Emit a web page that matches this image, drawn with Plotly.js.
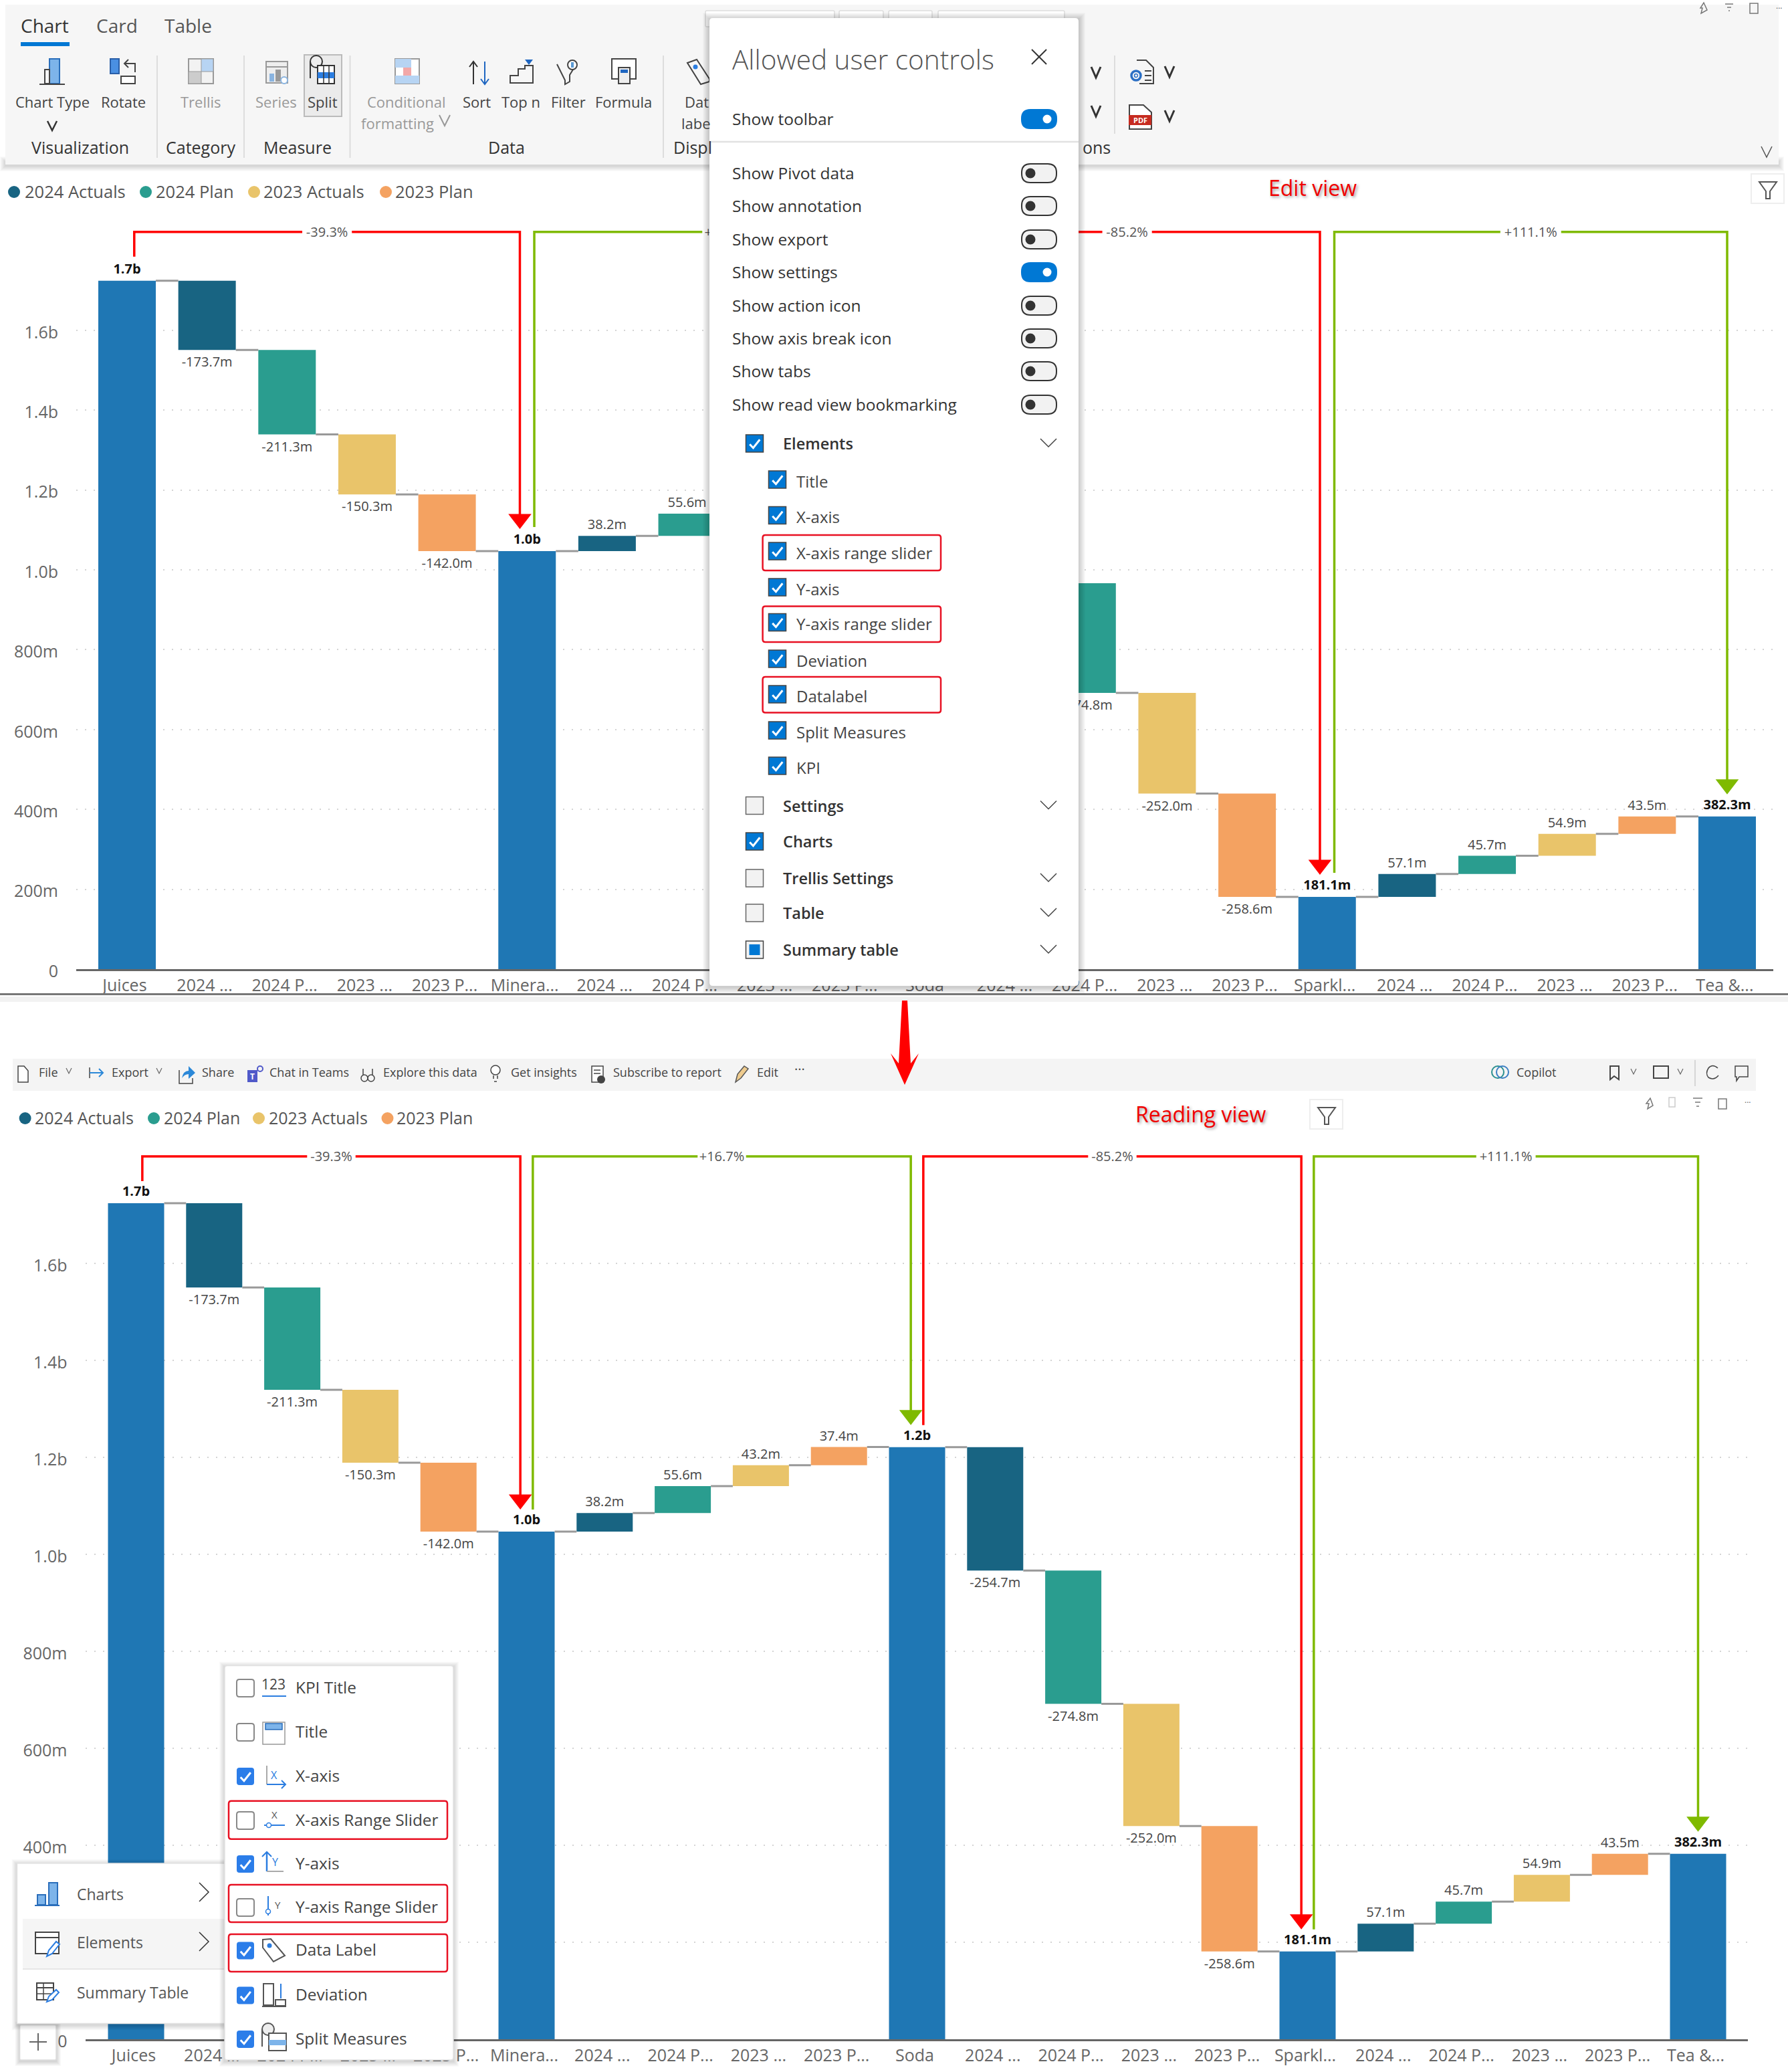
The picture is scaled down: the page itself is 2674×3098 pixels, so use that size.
<!DOCTYPE html>
<html><head><meta charset="utf-8">
<script src="https://cdn.plot.ly/plotly-3.0.1.min.js"></script>
<style>html,body{margin:0;padding:0;background:#fff}</style></head>
<body><div id="chart" style="width:2674px;height:3098px"></div>
<script>
// ---------- DATA ----------
const categories = ["Juices","2024 ...","2024 P...","2023 ...","2023 P...","Minera...","2024 ...","2024 P...","2023 ...","2023 P...","Soda","2024 ...","2024 P...","2023 ...","2023 P...","Sparkl...","2024 ...","2024 P...","2023 ...","2023 P...","Tea &..."];
const seriesNames = ["Category total","2024 Actuals","2024 Plan","2023 Actuals","2023 Plan"];
const seriesOfBar = [0,1,2,3,4,0,1,2,3,4,0,1,2,3,4,0,1,2,3,4,0];
const barValues = [1724.2,-173.7,-211.3,-150.3,-142.0,1046.9,38.2,55.6,43.2,37.4,1221.2,-254.7,-274.8,-252.0,-258.6,181.1,57.1,45.7,54.9,43.5,382.3];
const barLabels = ["1.7b","-173.7m","-211.3m","-150.3m","-142.0m","1.0b","38.2m","55.6m","43.2m","37.4m","1.2b","-254.7m","-274.8m","-252.0m","-258.6m","181.1m","57.1m","45.7m","54.9m","43.5m","382.3m"];
const devFrom = [0,5,10,15];
const devTo = [5,10,15,20];
const devLabels = ["-39.3%","+16.7%","-85.2%","+111.1%"];
const yTickVals = [0,200,400,600,800,1000,1200,1400,1600];
const yTickText = ["0","200m","400m","600m","800m","1.0b","1.2b","1.4b","1.6b"];
// ---------- STYLE ----------
const seriesColors = ["#1f77b4","#186482","#2a9d8f","#e9c46a","#f4a261"];
const RED="#ff0000", GREEN="#7fba00", W=2674, H=3098;
const FONT='"Open Sans","Noto Sans",sans-serif';
const BLUE="#0078d4";
// panels: pixel frame of each chart
const frames = [
 {x0:190,step:119.65,left:114,right:2652,base:1449,top:339,ppu:0.597,barPx:86,brY:346.7,clr:36,tip:33,gap:0.09,ax:""},
 {x0:203.5,step:116.8,left:127.5,right:2614,base:3049,top:1720,ppu:0.725,barPx:84,brY:1729,clr:33,tip:33,gap:0.08,ax:"2"}
];
const traces=[]; const layout={
 width:W,height:H,margin:{l:0,r:0,t:0,b:0},paper_bgcolor:"#fff",plot_bgcolor:"rgba(0,0,0,0)",
 showlegend:false,barmode:"overlay",font:{family:FONT,color:"#555"},hovermode:false,shapes:[],annotations:[]
};
// running levels of the waterfall
const lows=[],tops=[],levels=[];
let run=0;
barValues.forEach((v,i)=>{
  const isTotal=seriesOfBar[i]===0;
  if(isTotal){lows.push(0);tops.push(v);run=v;}
  else{lows.push(Math.min(run,run+v));tops.push(Math.max(run,run+v));run+=v;}
  levels.push(run);
});
frames.forEach(f=>{
  const xa="x"+f.ax, ya="y"+f.ax;
  const idx=categories.map((_,i)=>i), width=f.barPx/f.step;
  seriesNames.forEach((name,s)=>{
    const ii=idx.filter(i=>seriesOfBar[i]===s);
    traces.push({type:"bar",name,xaxis:xa,yaxis:ya,x:ii,base:ii.map(i=>lows[i]),y:ii.map(i=>tops[i]-lows[i]),width,
      marker:{color:seriesColors[s],line:{width:0}}});
  });
  // connectors
  const cx=[],cy=[];
  for(let i=0;i<categories.length-1;i++){cx.push(i+width/2,i+1-width/2,null);cy.push(levels[i],levels[i],null);}
  traces.push({type:"scatter",mode:"lines",xaxis:xa,yaxis:ya,x:cx,y:cy,line:{color:"#999",width:3}});
  // data labels
  const neg=idx.filter(i=>barValues[i]<0), pos=idx.filter(i=>barValues[i]>=0&&seriesOfBar[i]!==0), tot=idx.filter(i=>seriesOfBar[i]===0);
  traces.push({type:"scatter",mode:"text",xaxis:xa,yaxis:ya,x:neg,y:neg.map(i=>lows[i]-10/f.ppu),text:neg.map(i=>barLabels[i]),textposition:"bottom center",textfont:{size:20,color:"#444",family:FONT}});
  traces.push({type:"scatter",mode:"text",xaxis:xa,yaxis:ya,x:pos,y:pos.map(i=>tops[i]+5/f.ppu),text:pos.map(i=>barLabels[i]),textposition:"top center",textfont:{size:20,color:"#444",family:FONT}});
  traces.push({type:"scatter",mode:"text",xaxis:xa,yaxis:ya,x:tot,y:tot.map(i=>tops[i]+6/f.ppu),text:tot.map(i=>"<b>"+barLabels[i]+"</b>"),textposition:"top center",textfont:{size:20,color:"#111",family:FONT}});
  // deviation brackets
  const brVal=(f.base-f.brY)/f.ppu;
  devFrom.forEach((a,k)=>{
    const b=devTo[k], col=devLabels[k][0]==="-"?RED:GREEN, half=devLabels[k].length>6?0.38:0.31;
    const x1=a+f.gap, x2=(k===3)?b:b-f.gap, mid=(a+f.gap+x2)/2, aY=tops[a]+f.clr/f.ppu, tipV=tops[b]+(f.tip+15)/f.ppu;
    traces.push({type:"scatter",mode:"lines",xaxis:xa,yaxis:ya,x:[x1,x1,mid-half,null,mid+half,x2,x2],y:[aY,brVal,brVal,null,brVal,brVal,tipV],line:{color:col,width:3.5}});
    traces.push({type:"scatter",mode:"markers",xaxis:xa,yaxis:ya,x:[x2],y:[tipV],marker:{symbol:"triangle-down",size:30,color:col}});
    traces.push({type:"scatter",mode:"text",xaxis:xa,yaxis:ya,x:[mid],y:[brVal-2/f.ppu],text:[devLabels[k]],textposition:"middle center",textfont:{size:20,color:"#555",family:FONT}});
  });
  layout["xaxis"+f.ax]={anchor:ya,domain:[f.left/W,f.right/W],range:[(f.left-f.x0)/f.step,(f.right-f.x0)/f.step],
    tickmode:"array",tickvals:idx.map(i=>i-0.03),ticktext:categories,tickangle:0,tickfont:{size:25,color:"#666",family:FONT},
    showgrid:false,zeroline:false,showline:true,linecolor:"#666",linewidth:3,ticks:"",fixedrange:true};
  layout["yaxis"+f.ax]={anchor:xa,domain:[1-f.base/H,1-f.top/H],range:[0,(f.base-f.top)/f.ppu],
    tickmode:"array",tickvals:yTickVals,ticktext:yTickText,tickfont:{size:25,color:"#666",family:FONT},ticklabelstandoff:26,ticklabelshift:3,
    showgrid:true,griddash:"2px,11px",gridcolor:"#d4d4d4",gridwidth:2,zeroline:false,showline:false,ticks:"",fixedrange:true};
});
// pixel overlay axes for the surrounding interface
layout.xaxis3={anchor:"y3",domain:[0,1],range:[0,W],visible:false,fixedrange:true};
layout.yaxis3={anchor:"x3",domain:[0,1],range:[H,0],visible:false,fixedrange:true};
traces.push({type:"scatter",mode:"markers",xaxis:"x3",yaxis:"y3",x:[],y:[]});

// ---------- INTERFACE HELPERS ----------
const S=layout.shapes,A=layout.annotations;
const base={xref:"x3",yref:"y3",layer:"above"};
const none={width:0};
function R(x0,y0,x1,y1,fill,lc,lw){S.push({...base,type:"rect",x0,y0,x1,y1,fillcolor:fill||"rgba(0,0,0,0)",line:lc?{color:lc,width:lw||1}:none});}
function L(x0,y0,x1,y1,c,w){S.push({...base,type:"line",x0,y0,x1,y1,line:{color:c||"#444",width:w||2}});}
function C(cx,cy,r,fill,lc,lw){S.push({...base,type:"circle",x0:cx-r,y0:cy-r,x1:cx+r,y1:cy+r,fillcolor:fill||"rgba(0,0,0,0)",line:lc?{color:lc,width:lw||1}:none});}
function P(path,fill,lc,lw){S.push({...base,type:"path",path,fillcolor:fill||"rgba(0,0,0,0)",line:lc?{color:lc,width:lw||1}:none});}
function RR(x0,y0,x1,y1,r,fill,lc,lw){P(`M${x0+r} ${y0}L${x1-r} ${y0}Q${x1} ${y0} ${x1} ${y0+r}L${x1} ${y1-r}Q${x1} ${y1} ${x1-r} ${y1}L${x0+r} ${y1}Q${x0} ${y1} ${x0} ${y1-r}L${x0} ${y0+r}Q${x0} ${y0} ${x0+r} ${y0}Z`,fill,lc,lw);}
function T(x,y,text,size,color,anchor,extra){A.push({xref:"x3",yref:"y3",x,y:y-2,text,showarrow:false,xanchor:anchor||"left",yanchor:"middle",borderpad:0,font:Object.assign({size,color:color||"#444",family:FONT},extra||{})});}
function shadow(x0,y0,x1,y1,n,alpha){for(let i=n;i>0;i--)R(x0-i,y0-i+2,x1+i,y1+i+2,`rgba(0,0,0,${alpha})`);}
function chev(x,y,w,h,c,lw){P(`M${x-w} ${y-h}L${x} ${y+h}L${x+w} ${y-h}`,null,c||"#333",lw||2);}
function chevR(x,y,w,h,c){P(`M${x-w} ${y-h}L${x+w} ${y}L${x-w} ${y+h}`,null,c||"#333",1.5);}
function check(x0,y0,x1,y1){const w=x1-x0,h=y1-y0;P(`M${x0+w*.22} ${y0+h*.55}L${x0+w*.42} ${y0+h*.76}L${x0+w*.8} ${y0+h*.28}`,null,"#fff",3);}
function toggle(cy,on){
  const x0=1528,x1=1580,h=14;
  RR(x0,cy-h,x1,cy+h,13,on?BLUE:"#f2f2f2",on?BLUE:"#333",2);
  if(on)C(x1-14,cy,6.5,"#fff");else C(x0+13,cy,7.5,"#333");
}
function box1(x0,cy,state){ // popup checkbox
  const x1=x0+26,y0=cy-13,y1=cy+13;
  if(state==="on"){R(x0,y0,x1,y1,BLUE,"#444",1.5);check(x0,y0,x1,y1);}
  else if(state==="part"){R(x0,y0,x1,y1,"#f2f2f2","#444",1.5);R(x0+5,y0+5,x1-5,y1-5,BLUE);}
  else R(x0,y0,x1,y1,"#f2f2f2","#666",1.5);
}
function box2(cy,on){ // reading view checkbox
  const x0=354,x1=380,y0=cy-13,y1=cy+13;
  if(on){RR(x0,y0,x1,y1,4,"#2b7de9");check(x0,y0,x1,y1);}
  else RR(x0,y0,x1,y1,4,"#fff","#888",2);
}

// ---------- RIBBON ----------
shadow(8,240,2660,246,8,0.018);
R(8,7,2660,246,"#f6f6f6");
const g="#999",lab="#444";
T(67,40,"Chart",28,"#333","center");T(175,40,"Card",28,"#555","center");T(281,40,"Table",28,"#555","center");
R(31,63,104,69,BLUE);
const rowY=154;
R(455,82,511,174,"#ebebeb","#bbb",2);
[[78,"Chart Type",lab],[184,"Rotate",lab],[300,"Trellis",g],[413,"Series",g],[482,"Split",lab],[608,"Conditional",g],[713,"Sort",lab],[779,"Top n",lab],[850,"Filter",lab],[932,"Formula",lab]].forEach(r=>T(r[0],rowY,r[1],22,r[2],"center"));
T(594,186,"formatting",22,g,"center");chev(665,180,8,8,g);chev(78,188,7,7,"#333",2.5);
T(1023,rowY,"Dat",22,lab);T(1018,186,"labe",22,lab);
[[120,"Visualization"],[300,"Category"],[445,"Measure"],[757,"Data"]].forEach(r=>T(r[0],222,r[1],25,"#333","center"));
T(1006,222,"Displ",25,"#333");T(1618,222,"ons",25,"#333");
[235,365,523.5,992].forEach(x=>L(x,83,x,236,"#ddd",2));L(1667,83,1667,200,"#ddd",2);
// ribbon icons
R(74,88,89,125,"#7db4ea","#2a6ebb",2);R(67,104,74,125,null,"#444",2);L(59,126,97,126,"#444",2);
R(165,88,178,110,"#4a90e2","#2a5fa8",2);R(181,114,202,125,"#fff","#444",2);P("M202 108L202 95L186 95M192 89L186 95L192 101",null,"#444",2);
R(282,88,319,125,"#f2f2f2","#999",2);R(301,88,319,107,"#b7d4f3","#999",1);R(282,107,301,125,"#ccc","#999",1);
R(398,92,430,124,"#eee","#999",2);L(398,100,430,100,"#999",2);R(403,110,410,122,"#8ab4e0");R(412,104,420,122,"#999");C(425,120,5,"#fff","#8ab4e0",2);
C(473,92,9,"#eee","#333",2);L(464,92,464,117,"#333",2);R(475,98,500,125,"#fff","#333",2);R(475,108,500,117,"#2b7de0");L(484,98,484,125,"#333",1.5);L(492,98,492,125,"#333",1.5);
R(591,88,627,125,"#fff","#999",2);R(603,88,615,101,"#b7d4f3");R(591,88,603,101,"#b7d4f3");R(603,101,615,113,"#f2a8a8");R(591,113,627,125,"#b7d4f3");
P("M708 126L708 92M702 100L708 92L714 100",null,"#333",2);P("M725 92L725 126M719 118L725 126L731 118",null,"#1f66c1",2);
P("M763 124L763 113L775 113L775 103L785 103L785 98L797 98L797 124Z",null,"#444",2);P("M785 89L797 89L791 97Z","#1f66c1");
P("M833 96L845 120L845 126L852 122L852 112L862 96",null,"#444",2);C(856,97,7,"#fff","#444",2);R(854,93,858,101,"#5b9bd5");
R(915,88,951,118,"#fff","#444",2);R(925,101,942,125,"#eee","#444",2);R(928,104,939,109,"#1f66c1");
P("M1028 94L1042 89L1061 118L1061 122L1048 126Z",null,"#444",2);C(1040,100,3.5,"#2b7de0");
chev(1639,108,7,8,"#333",3);chev(1639,166,7,8,"#333",3);
P("M1700 90L1714 90L1725 101L1725 125L1704 125",null,"#444",2);C(1699,113,7,null,"#2b6fc4",3.5);C(1699,113,2.5,null,"#2b6fc4",1.5);L(1712,106,1722,106,"#444",2);L(1712,113,1722,113,"#444",2);L(1712,120,1722,120,"#444",2);
chev(1749,107,7,8,"#333",3);
P("M1689 157L1710 157L1722 168L1722 193L1689 193Z","#fff","#444",2);R(1688,172,1722,187,"#c62b20");T(1705,181.5,"PDF",11,"#fff","center",{weight:700});
chev(1749,173,7,8,"#333",3);
chev(2642,227,8,8,"#555",1.5);
P("M2548 4L2553 15L2544 20L2546 12L2543 12Z",null,"#777",1.5);L(2580,6,2592,6,"#777",1.5);L(2583,11,2589,11,"#777",1.5);L(2585,16,2587,16,"#777",1.5);
R(2617,5,2629,20,null,"#777",1.5);T(2660,10,"...",12,"#666","center");

// Legends
const legendColors=seriesColors.slice(1), legendNames=seriesNames.slice(1);
[[21,35.5],[218,232],[380,393],[577,590]].forEach((p,i)=>{C(p[0],287,9,legendColors[i]);T(p[1],288,legendNames[i],25.5,"#555");});
[[37.6,51],[230,243.6],[387,401],[579.5,592]].forEach((p,i)=>{C(p[0],1672,9,legendColors[i]);T(p[1],1673,legendNames[i],25,"#555");});
T(1963,282,"Edit view",32,"#f00000","center",{shadow:"2px 2px 4px #999"});
T(1796,1667,"Reading view",32,"#f00000","center",{shadow:"2px 2px 4px #999"});
function funnel(cx,cy){R(cx-25,cy-23,cx+24,cy+21,"#fff","#eee",2);P(`M${cx-13} ${cy-11}L${cx+13} ${cy-11}L${cx+3} ${cy+3}L${cx+3} ${cy+14}L${cx-3} ${cy+14}L${cx-3} ${cy+3}Z`,null,"#555",2);}
funnel(2644,283);funnel(1984,1667);

// ---------- BOTTOM TOOLBAR ----------
R(19,1583,2626,1631,"#f4f4f4");
const tb=18;
[[57,"File"],[166,"Export"],[301,"Share"],[402,"Chat in Teams"],[572,"Explore this data"],[763,"Get insights"],[916,"Subscribe to report"],[1131,"Edit"],[2267,"Copilot"]].forEach(r=>T(r[0],1605,r[1],tb,"#444"));
T(1196,1600,"···",20,"#444","center");
chev(103,1601,4,4,"#666",1.2);chev(238,1601,4,4,"#666",1.2);chev(2443,1602,4,4,"#666",1.2);chev(2513,1602,4,4,"#666",1.2);
P("M27 1594L36 1594L42 1601L42 1618L27 1618Z","#fff","#444",1.5);
L(134,1596,134,1612,"#444",1.5);L(134,1604,154,1604,"#2b88d8",2);P("M148 1598L154 1604L148 1610",null,"#2b88d8",2);
P("M268 1600L268 1620L288 1620L288 1612",null,"#444",1.5);P("M272 1612Q274 1601 282 1601L282 1594L292 1604L282 1613L282 1606Q276 1606 272 1612Z","#2b88d8");
R(370,1600,385,1618,"#5059c9");C(389,1598,4,null,"#5059c9",2);T(377,1611,"T",12,"#fff","center",{weight:700});
C(545,1612,5,null,"#444",1.5);C(555,1612,5,null,"#444",1.5);L(543,1598,543,1608,"#444",1.5);L(557,1598,557,1608,"#444",1.5);
C(741,1600,7,"#fff","#444",1.5);L(738,1608,738,1613,"#444",1.5);L(744,1608,744,1613,"#444",1.5);L(739,1617,743,1617,"#444",1.5);
R(885,1594,902,1618,"#fff","#444",1.5);L(888,1600,898,1600,"#444",1.5);L(888,1605,898,1605,"#444",1.5);C(899,1614,6,"#444");
P("M1100 1618L1103 1606L1113 1594L1119 1598L1108 1612Z","#eecb8e","#555",1.5);
C(2240,1603,9,null,"#2a8f8f",2);C(2247,1603,9,null,"#3b7fc4",2);
P("M2408 1594L2421 1594L2421 1614L2414 1609L2408 1614Z",null,"#444",2);R(2473,1594,2495,1612,null,"#444",2);
L(2535,1585,2535,1624,"#ccc",1.5);P("M2569 1597Q2561 1590 2555 1597Q2550 1605 2555 1611Q2563 1616 2570 1608",null,"#444",1.5);P("M2595 1594L2614 1594L2614 1610L2601 1610L2597 1616L2597 1610L2595 1610Z",null,"#444",1.5);
P("M2468 1642L2472 1653L2464 1658L2466 1650L2462 1650Z",null,"#777",1.5);R(2496,1641,2505,1655,null,"#ccc",1.5);L(2532,1642,2546,1642,"#777",1.5);L(2535,1648,2543,1648,"#777",1.5);L(2537,1654,2541,1654,"#777",1.5);R(2570,1643,2582,1658,null,"#777",1.5);T(2613,1646,"...",12,"#666","center");

// top screenshot bottom edge
R(0,1490,2674,1498,"rgba(0,0,0,0.05)");R(0,1485,2674,1488,"#777");
// big red arrow
P("M1349 1496L1357 1496L1362 1590L1374 1575L1353 1622L1332 1575L1344 1590Z",RED);

// ---------- POPUP ----------
RR(1055,16,1248,40,2,"#fff","#ddd",1.5);RR(1255,16,1321,40,2,"#fff","#ddd",1.5);RR(1329,16,1394,40,2,"#fff","#ddd",1.5);RR(1403,16,1592,40,2,"#fff","#ddd",1.5);
shadow(1061,27,1613,1474,10,0.018);
RR(1061,27,1613,1474,5,"#fff");
T(1094,90,"Allowed user controls",40.5,"#555","left",{weight:300});
L(1543,74,1565,96,"#333",2);L(1565,74,1543,96,"#333",2);
T(1094,179,"Show toolbar",24.5,"#333");toggle(178,true);
L(1061,212,1613,212,"#e2e2e2",2.5);
[["Show Pivot data",259,false],["Show annotation",308,false],["Show export",358,false],["Show settings",407,true],["Show action icon",457,false],["Show axis break icon",506,false],["Show tabs",555,false],["Show read view bookmarking",605,false]].forEach(r=>{T(1094,r[1]+1,r[0],24.5,"#333");toggle(r[1],r[2]);});
[["Elements",665,"on",1],["Settings",1206.5,"off",1],["Charts",1260,"on",0],["Trellis Settings",1315,"off",1],["Table",1367,"off",1],["Summary table",1422,"part",1]].forEach(r=>{
  box1(1115.5,r[1]-2,r[2]);T(1169.5,r[1],r[0],23.5,"#333","left",{weight:600});if(r[3])chev(1568,r[1]-3,12,6,"#444",1.5);
});
[["Title",721],["X-axis",774.5],["X-axis range slider",828],["Y-axis",882],["Y-axis range slider",934.6],["Deviation",989],["Datalabel",1042],["Split Measures",1096],["KPI",1149]].forEach(r=>{
  box1(1149.5,r[1]-4,"on");T(1190,r[1],r[0],24,"#444");
});
[[800,853],[906.5,960],[1012,1065.5]].forEach(r=>RR(1140.6,r[0],1407,r[1],4,null,"#e81123",2.5));

// ---------- READING VIEW PANELS ----------
shadow(29.6,3027.5,84,3080,7,0.025);RR(29.6,3027.5,84,3080,2,"#fff","#ddd",1.5);
L(44,3053,70,3053,"#666",2);L(57,3040,57,3066,"#666",2);
shadow(25.5,2786,337,3025.5,8,0.018);R(25.5,2786,337,3025.5,"#fff","#e2e2e2",1.5);
R(34,2869,337,2944,"#f5f5f5");L(34,2944,337,2944,"#e6e6e6",2);
T(114,2833.5,"Charts",23,"#555");T(114,2906,"Elements",23,"#555");T(114,2981,"Summary Table",23,"#555");
chevR(305,2829,7,14);chevR(305,2903,7,14);
L(52,2849,89,2849,"#2a6ebb",2);R(56,2833,68,2848,"#7db4ea","#2a6ebb",2);R(73,2815,86,2848,"#7db4ea","#2a6ebb",2);
R(53,2889,88,2921,"#fff","#444",2);L(53,2897,88,2897,"#444",2);P("M70 2925L73 2916L84 2903L89 2907L78 2921Z","#fff","#2b7de0",2);
R(55,2965,80,2990,"#fff","#444",2);L(55,2972,80,2972,"#444",2);L(55,2981,80,2981,"#444",1.5);L(65,2965,65,2990,"#444",1.5);P("M70 2993L73 2985L84 2975L88 2979L78 2990Z","#fff","#2b7de0",2);
shadow(336,2490.5,678,3080,8,0.018);RR(336,2490.5,678,3080,4,"#fff","#e2e2e2",1.5);
[["KPI Title",2524,false],["Title",2590,false],["X-axis",2656,true],["X-axis Range Slider",2722,false],["Y-axis",2787,true],["Y-axis Range Slider",2852,false],["Data Label",2916.5,true],["Deviation",2983.6,true],["Split Measures",3049,true]].forEach(r=>{
  box2(r[1],r[2]);T(441,r[1],r[0],24.4,"#444");
});
[[2692.7,2749.7],[2818,2874],[2892,2948]].forEach(r=>RR(342,r[0],669,r[1],4,null,"#e81123",2.5));
T(409,2520,"123",21,"#444","center");L(392,2536,428,2536,"#2b7de0",2);
R(393,2575,426,2608,"#fff","#999",1.5);R(397,2577,422,2586,"#7db4ea","#2a6ebb",1.5);
L(399,2640,399,2668,"#aaa",2);L(399,2668,426,2668,"#2b7de0",2);P("M421 2662L427 2668L421 2674",null,"#2b7de0",2);T(410,2656,"X",16,"#2b7de0","center");
L(395,2729,426,2729,"#2b7de0",2);C(402,2729,3.5,"#fff","#2b7de0",1.5);T(410,2715,"X",15,"#555","center");
L(399,2770,399,2798,"#2b7de0",2.5);P("M392 2776L399 2769L406 2776",null,"#2b7de0",2);L(399,2798,424,2798,"#aaa",2);T(411,2786,"Y",16,"#2b7de0","center");
L(401,2835,401,2864,"#2b7de0",2);C(401,2858,3.5,"#fff","#2b7de0",1.5);T(415,2850,"Y",15,"#555","center");
P("M393 2900L405 2899L426 2924L409 2933L393 2912Z",null,"#555",2);C(403,2909,3.5,"#2b7de0");
R(394,2966,409,2998,"#fff","#555",2);R(412,2990,427,2999,"#fff","#555",2);L(420,2966,420,2988,"#2b7de0",2);L(392,3000,428,3000,"#555",2);
C(401,3034,9,"#eee","#555",2);L(392,3034,392,3060,"#555",2);R(402,3040,428,3066,"#fff","#555",2);R(402,3050,428,3058,"#7db4ea");

Plotly.newPlot("chart",traces,layout,{displayModeBar:false,responsive:false});
</script></body></html>
